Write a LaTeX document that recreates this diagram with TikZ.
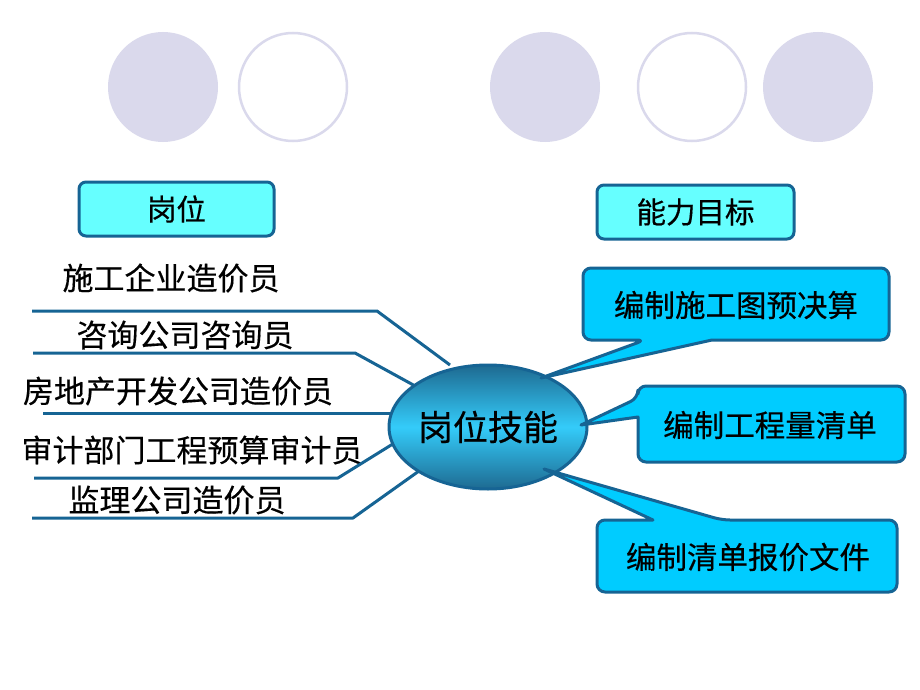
\documentclass[tikz,border=0pt]{standalone}
\usepackage{fontspec}
\newfontfamily\cjk[FakeBold=0.4]{Noto Sans CJK SC}
\usetikzlibrary{shapes.geometric}
\definecolor{edge}{RGB}{22,100,148}
\definecolor{lav}{RGB}{218,217,236}
\definecolor{hdrfill}{RGB}{102,255,255}
\definecolor{callfill}{RGB}{0,204,255}
\definecolor{elltop}{RGB}{30,106,145}
\definecolor{ellmid}{RGB}{52,204,250}
\begin{document}
\begin{tikzpicture}[x=1pt,y=-1pt,
  lbl/.style={font=\cjk\fontsize{31}{36}\selectfont, inner sep=0pt},
  goal/.style={font=\cjk\fontsize{30.5}{36}\selectfont, inner sep=0pt},
  link/.style={draw=edge, line width=3pt, line join=round},
  hdr/.style={draw=edge, line width=3pt, fill=hdrfill, rounded corners=7pt,
    font=\cjk\fontsize{29.5}{34}\selectfont, inner sep=0pt},
  callout/.style={draw=edge, line width=3pt, fill=callfill, line join=round},
  dotring/.style={draw=lav, line width=2.5pt}]
\useasboundingbox (0,0) rectangle (920,690);
\fill[white] (0,0) rectangle (920,690);

% decorative circles
\fill[lav] (163,87) circle[radius=55];
\draw[dotring] (293,87) circle[radius=54];
\fill[lav] (545,87) circle[radius=55];
\draw[dotring] (692,87) circle[radius=54];
\fill[lav] (818,87) circle[radius=55];

% headers
\node[hdr, minimum width=195pt, minimum height=54pt] (hpost) at (176.5,209) {岗位};
\node[hdr, minimum width=197pt, minimum height=54pt] (hgoal) at (695.5,212) {能力目标};

% left labels
\node[lbl] (p1) at (171,278) {施工企业造价员};
\node[lbl] (p2) at (185,335) {咨询公司咨询员};
\node[lbl] (p3) at (178,391) {房地产开发公司造价员};
\node[lbl] (p4) at (192,450) {审计部门工程预算审计员};
\node[lbl] (p5) at (177,500) {监理公司造价员};

% connector points
\coordinate (a1) at (32,311);  \coordinate (b1) at (377,311); \coordinate (e1) at (450,365);
\coordinate (a2) at (33,353);  \coordinate (b2) at (355,353); \coordinate (e2) at (417,387);
\coordinate (a3) at (43,413);  \coordinate (e3) at (400,413);
\coordinate (a4) at (34,478);  \coordinate (b4) at (338,478); \coordinate (e4) at (396,442);
\coordinate (a5) at (32,518);  \coordinate (b5) at (353,518); \coordinate (e5) at (419,471);

\draw[link] (a1) -- (b1) -- (e1);
\draw[link] (a2) -- (b2) -- (e2);
\draw[link] (a3) -- (e3);
\draw[link] (a4) -- (b4) -- (e4);
\draw[link] (a5) -- (b5) -- (e5);

% central ellipse
\node[ellipse, minimum width=186pt, minimum height=124pt, inner sep=0pt,
  draw=edge, line width=3pt, top color=elltop, bottom color=elltop, middle color=ellmid,
  font=\cjk\fontsize{35}{40}\selectfont] (skill) at (488,427) {岗位技能};

% callouts
\coordinate (t1) at (541,378);
\coordinate (t2) at (581,425);
\coordinate (t3) at (544,469);
\draw[callout, rounded corners=8pt] (712,340) -- (889,340) -- (889,268) -- (583,268) -- (583,340) -- (645,340) [sharp corners] -- (t1) -- cycle;
\draw[callout, rounded corners=8pt] (638,417) -- (638,462) -- (905,462) -- (905,386) -- (638,386) -- (638,398) [sharp corners] -- (t2) -- cycle;
\draw[callout, rounded corners=8pt] (653,520) -- (597,520) -- (597,592) -- (897,592) -- (897,520) -- (722,520) [sharp corners] -- (t3) -- cycle;

\node[goal] (g1) at (736,305) {编制施工图预决算};
\node[goal] (g2) at (770,425) {编制工程量清单};
\node[goal] (g3) at (748,557) {编制清单报价文件};
\end{tikzpicture}
\end{document}
